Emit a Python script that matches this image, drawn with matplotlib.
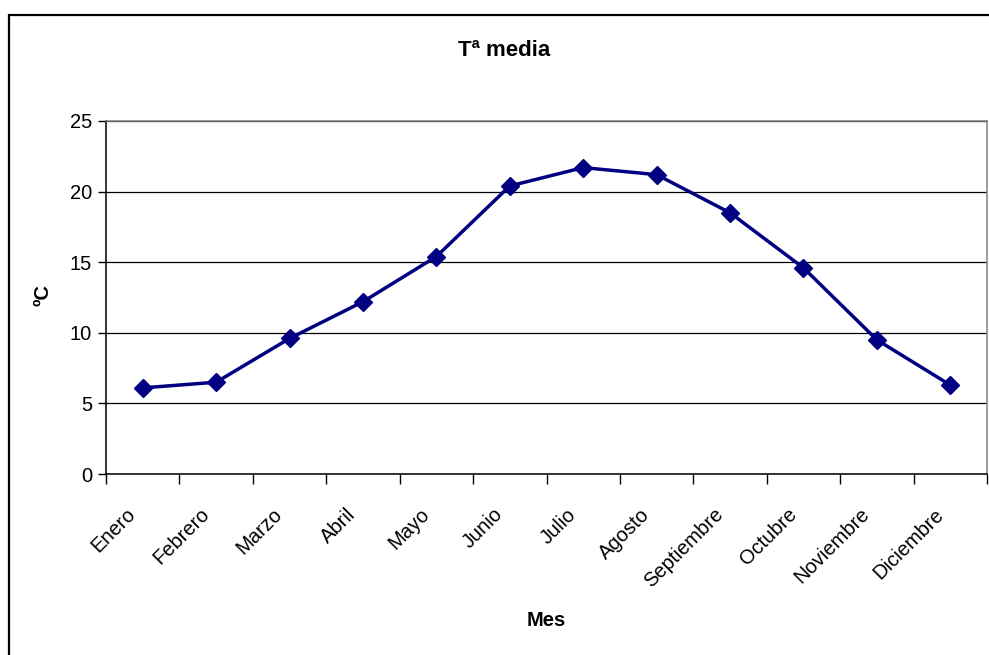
import numpy as np
import matplotlib.pyplot as plt
import matplotlib.transforms as mtransforms
from matplotlib.patches import Rectangle

plt.rcParams['font.family'] = ['Liberation Sans', 'DejaVu Sans']

meses = ['Enero', 'Febrero', 'Marzo', 'Abril', 'Mayo', 'Junio', 'Julio',
         'Agosto', 'Septiembre', 'Octubre', 'Noviembre', 'Diciembre']
temp_media = [6.1, 6.5, 9.6, 12.2, 15.4, 20.4, 21.7, 21.2, 18.5, 14.6, 9.5, 6.3]
y_ticks = [0, 5, 10, 15, 20, 25]

fig = plt.figure(figsize=(9.89, 6.55), dpi=100)
# chart frame (runs off the right and bottom edge)
fig.patches.append(Rectangle((9 / 989, -0.05), 1.2, 1 - 15 / 655 + 0.05,
                             transform=fig.transFigure, fill=False,
                             edgecolor='black', linewidth=1.6, clip_on=False))

ax = fig.add_axes([106 / 989, 1 - 474 / 655, (987 - 106) / 989, (474 - 121) / 655])
x = np.arange(len(meses))
ax.plot(x, temp_media, color='#000080', linewidth=2.5, marker='D', markersize=9.5)

ax.set_xlim(-0.5, len(meses) - 0.5)
ax.set_ylim(0, 25)
ax.set_yticks(y_ticks)
ax.yaxis.grid(True, color='black', linewidth=0.9)
ax.set_axisbelow(True)

ax.set_xticks(np.arange(len(meses) + 1) - 0.5)
ax.set_xticklabels([])
ax.set_xticks(x, minor=True)
ax.set_xticklabels(meses, minor=True, rotation=45, ha='right', va='center',
                   rotation_mode='anchor')
ax.tick_params(axis='x', which='major', length=7, width=1, direction='out')
ax.tick_params(axis='x', which='minor', length=0, pad=27, labelsize=14.5)
ax.tick_params(axis='y', length=6, width=1, labelsize=14.5, pad=4)

shift = mtransforms.ScaledTranslation(-0.1, 0, fig.dpi_scale_trans)
for lbl in ax.get_xticklabels(minor=True):
    lbl.set_transform(lbl.get_transform() + shift)

for s in ['left', 'bottom']:
    ax.spines[s].set_color('black')
    ax.spines[s].set_linewidth(1.1)
for s in ['top', 'right']:
    ax.spines[s].set_color('#808080')
    ax.spines[s].set_linewidth(1.1)

fig.text(504 / 989, 1 - 50 / 655, 'Tª media', ha='center', va='center',
         fontsize=16, fontweight='bold')
fig.text(546 / 989, 1 - 620 / 655, 'Mes', ha='center', va='center',
         fontsize=14.5, fontweight='bold')
fig.text(43 / 989, 1 - 295 / 655, 'ºC', ha='center', va='center',
         fontsize=14.5, fontweight='bold', rotation=90)

fig.savefig('out.png', dpi=100)
